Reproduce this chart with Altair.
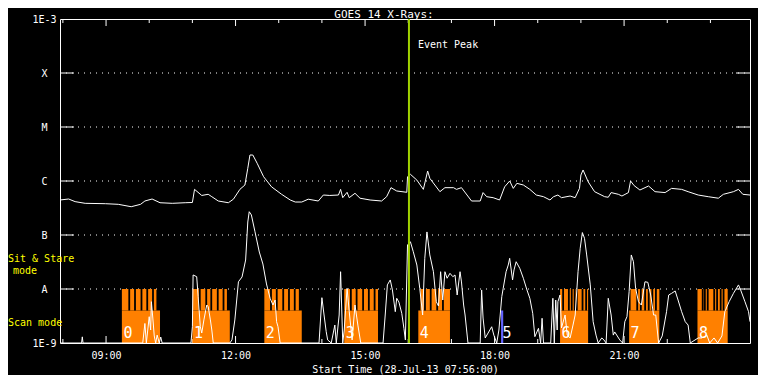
import altair as alt
import pandas as pd

# ---------------- data ----------------
TITLE = "GOES 14 X-Rays:"
START, END = "07:56", "23:55"
EVENT_TIME = "16:01"

# GOES 14 long channel (upper curve)
long_time = ["07:56","08:08","08:17","08:31","08:59","09:17","09:35","09:48","09:54","10:04",
             "10:15","10:32","10:50","11:00","11:03","11:13","11:22","11:27","11:36","11:50",
             "11:57","12:06","12:13","12:17","12:20","12:24","12:30","12:39","12:50","13:04",
             "13:16","13:23","13:32","13:41","13:55","14:02","14:11","14:23","14:26","14:29",
             "14:35","14:38","14:46","14:53","15:07","15:23","15:30","15:36","15:44","15:58",
             "15:59","16:03","16:12","16:21","16:27","16:30","16:44","16:51","17:03","17:07",
             "17:14","17:28","17:40","17:44","17:49","17:58","18:07","18:14","18:21","18:26",
             "18:31","18:40","18:49","18:58","19:08","19:17","19:22","19:28","19:33","19:45",
             "19:52","19:58","20:00","20:03","20:10","20:19","20:33","20:38","20:42","20:52",
             "20:57","21:06","21:09","21:14","21:22","21:34","21:43","21:57","22:06","22:20",
             "22:29","22:43","22:57","23:11","23:18","23:32","23:39","23:45","23:55"]
long_flux = [4.45e-7,4.64e-7,4.15e-7,3.86e-7,3.8e-7,3.7e-7,3.34e-7,3.7e-7,4.26e-7,4.64e-7,
             3.96e-7,3.86e-7,3.96e-7,4.0e-7,7.0e-7,5.4e-7,5.67e-7,5.12e-7,4.26e-7,3.96e-7,
             4.6e-7,7.0e-7,8.43e-7,1.72e-6,3.03e-6,3.03e-6,2.13e-6,1.2e-6,7.8e-7,5.67e-7,
             4.45e-7,4.08e-7,4.08e-7,4.6e-7,4.26e-7,5.5e-7,5.4e-7,5.5e-7,7.0e-7,4.91e-7,
             6.18e-7,4.91e-7,5.92e-7,4.8e-7,4.45e-7,4.26e-7,5.12e-7,7.52e-7,6.53e-7,6.18e-7,
             1.2e-6,1.33e-6,1.04e-6,7.0e-7,1.53e-6,1.12e-6,6.34e-7,7.52e-7,7.52e-7,7.0e-7,
             7.52e-7,4.26e-7,4.26e-7,6.1e-7,5.12e-7,4.91e-7,4.45e-7,7.8e-7,1.0e-6,7.3e-7,
             9.06e-7,8.43e-7,7.0e-7,5.5e-7,5.12e-7,4.45e-7,5.12e-7,5.5e-7,4.91e-7,5.27e-7,
             4.91e-7,7.3e-7,1.29e-6,1.6e-6,9.7e-7,6.34e-7,5.12e-7,5.0e-7,6.1e-7,5.67e-7,
             5.27e-7,6.1e-7,1.0e-6,8.2e-7,6.81e-7,8.08e-7,6.34e-7,6.1e-7,7.3e-7,7.0e-7,
             6.34e-7,5.5e-7,5.12e-7,4.8e-7,5.67e-7,6.34e-7,7.0e-7,5.67e-7,5.5e-7]

# GOES 14 short channel (lower curve)
short_time = ["07:56","08:26","08:27","08:28","09:51","09:54","09:56","10:00","10:02","10:03",
              "10:05","10:07","10:09","10:11","10:14","10:16","10:18","10:58","11:00","11:01",
              "11:06","11:08","11:11","11:13","11:16","11:20","11:22","11:25","11:27","11:29",
              "11:52","11:55","11:59","12:04","12:09","12:14","12:17","12:19","12:22","12:27",
              "12:33","12:38","12:43","12:48","12:52","12:55","12:57","12:59","13:02","13:56",
              "14:00","14:03","14:06","14:08","14:13","14:18","14:20","14:24","14:26","14:29",
              "14:31","14:35","14:38","14:42","14:46","14:50","14:54","15:25","15:28","15:31",
              "15:35","15:38","15:42","15:44","15:47","15:51","15:54","15:56","15:59","16:03",
              "16:07","16:12","16:16","16:20","16:23","16:26","16:30","16:35","16:39","16:42",
              "16:45","16:48","16:51","16:54","16:58","17:02","17:05","17:08","17:12","17:14",
              "17:17","17:19","17:23","17:40","17:42","17:44","17:47","17:51","17:56","17:59",
              "18:03","18:06","18:10","18:12","18:16","18:19","18:21","18:25","18:27","18:30",
              "18:35","18:40","18:45","18:49","18:53","18:56","19:01","19:04","19:06","19:08",
              "19:18","19:21","19:23","19:25","19:27","19:28","19:31","19:33","19:38","19:41",
              "19:45","19:49","19:52","19:56","19:59","20:02","20:05","20:08","20:13","20:17",
              "20:21","20:24","20:29","20:32","20:35","20:38","20:42","20:45","20:47","20:54",
              "20:58","21:01","21:04","21:07","21:10","21:13","21:16","21:20","21:24","21:29",
              "21:33","21:37","21:41","21:44","21:48","21:53","21:59","22:02","22:06","22:11",
              "22:15","22:20","22:25","22:29","22:32","22:43","22:48","22:55","22:59","23:05",
              "23:10","23:16","23:20","23:26","23:32","23:39","23:42","23:48","23:53","23:55"]
short_flux = [1e-9,1e-9,1.3e-9,1e-9,1e-9,2.3e-9,1e-9,3.07e-9,1.74e-9,5.82e-9,
              2.9e-9,1.35e-9,1e-9,1.4e-9,1e-9,1.29e-9,1e-9,1e-9,2.0e-9,1.82e-8,
              1.69e-8,7.2e-9,2.0e-9,1.53e-9,2.67e-9,5.05e-9,4.7e-9,2.67e-9,1.74e-9,1e-9,
              1e-9,1.14e-9,2.67e-9,1.36e-8,1.67e-8,3.44e-8,1.74e-7,2.7e-7,2.35e-7,1.15e-7,
              4.84e-8,2.9e-8,1.24e-8,6.73e-9,5.05e-9,6.25e-9,2.48e-9,2.0e-9,1e-9,1e-9,
              6.9e-9,3.3e-9,1.62e-9,1.14e-9,1e-9,2.15e-9,1e-9,3.3e-9,2.09e-8,1e-9,
              1.74e-9,1.03e-8,3.8e-9,1.14e-9,5.05e-9,2.15e-9,1e-9,1e-9,3.3e-9,1.19e-8,
              1.47e-8,9.6e-9,3.8e-9,6.73e-9,5.74e-9,3.55e-9,1.87e-9,1.14e-9,6.53e-8,7.5e-8,
              4.9e-8,2.78e-8,1.03e-8,3.3e-9,3.7e-8,1.14e-7,4.27e-8,2.09e-8,5.82e-9,4.84e-9,
              2.09e-8,6.25e-9,2.09e-8,1.58e-8,1.95e-8,1.69e-8,1.82e-8,7.74e-9,2.09e-8,1.35e-8,
              5.05e-9,3.3e-9,1e-9,1e-9,9.6e-9,2.9e-9,1.24e-9,1.53e-9,2.0e-9,1.4e-9,
              1e-9,1.74e-9,7.2e-9,1.03e-8,2.09e-8,2.78e-8,3.7e-8,1.47e-8,2.25e-8,3.2e-8,
              2.42e-8,1.58e-8,9.6e-9,6.73e-9,3.55e-9,1.31e-9,1.87e-9,1e-9,2.87e-9,1e-9,
              1e-9,6.73e-9,1e-9,6.25e-9,1.74e-9,5.82e-9,7.74e-9,1.9e-9,3.3e-9,1.4e-9,
              1.24e-9,2.15e-9,3.3e-9,2.09e-8,5.67e-8,1.11e-7,8.69e-8,4.27e-8,1.19e-8,2.48e-9,
              1.4e-9,1e-9,1.24e-9,1.14e-9,1e-9,6.73e-9,3.3e-9,1.4e-9,1.6e-9,1.14e-9,
              1e-9,2.48e-9,3.07e-9,8.9e-9,4.27e-8,3.2e-8,1.03e-8,5.82e-9,5.05e-9,1.36e-8,
              1.33e-8,7.74e-9,3.3e-9,3.3e-9,1e-9,1.35e-9,3.8e-9,7.74e-9,8.3e-9,9.2e-9,
              6.25e-9,3.8e-9,2.48e-9,2.15e-9,1e-9,1.24e-9,1.24e-9,1.4e-9,1e-9,1.24e-9,
              1e-9,1.35e-9,3.8e-9,5.82e-9,8.3e-9,1.19e-8,9.6e-9,5.82e-9,3.8e-9,2.48e-9]

# observation blocks (scan mode bar + sit & stare comb)
block_id    = ["0","1","2","3","4","5","6","7","8"]
block_kind  = ["iris","iris","iris","iris","iris","other","iris","iris","iris"]
scan_start  = ["09:22","11:00","12:40","14:31","16:14","18:09","19:31","21:07","22:42"]
scan_end    = ["10:15","11:52","13:32","15:18","16:58","18:12","20:10","21:49","23:24"]
sit_start   = ["09:22","11:00","12:40","14:31","16:17","","19:31","21:09","22:42"]
sit_end     = ["10:10","11:48","13:28","15:18","16:58","","20:10","21:49","23:24"]
gap_start = ["09:31","09:39","09:48","09:56","10:04",
             "11:09","11:18","11:25","11:34","11:42",
             "12:48","12:56","13:05","13:13","13:21",
             "14:39","14:47","14:56","15:04","15:12",
             "16:22","16:30","16:39","16:47",
             "19:34","19:42","19:46","19:50","19:53","20:01","20:06",
             "21:17","21:22","21:28","21:33","21:38","21:43",
             "22:48","22:51","22:55","23:04","23:08","23:13","23:17"]
GAP_MIN = 2.5

FLOOR, SCAN_TOP, SIT_TOP = 1e-9, 4e-9, 1e-8

decades = [1e-9, 1e-8, 1e-7, 1e-6, 1e-5, 1e-4, 1e-3]
decade_labels = ["1E-9", "A", "B", "C", "M", "X", "1E-3"]
grid_decades = [1e-8, 1e-7, 1e-6, 1e-5, 1e-4]
x_tick_hours = [9, 12, 15, 18, 21]
x_tick_labels = ["09:00", "12:00", "15:00", "18:00", "21:00"]
all_hours = list(range(8, 24))

# ---------------- build chart ----------------
def hrs(s):
    h, m = s.split(":")
    return int(h) + int(m) / 60.0

W, H = 690, 324
FONT = "DejaVu Sans Mono"
ORANGE, BLUE, GREEN, YELLOW = "#ff8000", "#6464ff", "#a0d200", "#ffff00"

xs = alt.Scale(domain=[hrs(START), hrs(END)], nice=False, zero=False)
ys = alt.Scale(type="log", domain=[1e-9, 1e-3], nice=False)

long_df = pd.DataFrame({"t": [hrs(s) for s in long_time], "flux": long_flux})
short_df = pd.DataFrame({"t": [hrs(s) for s in short_time], "flux": short_flux})
blocks = pd.DataFrame({
    "id": block_id, "kind": block_kind,
    "t0": [hrs(s) for s in scan_start], "t1": [hrs(s) for s in scan_end],
    "lo": FLOOR, "hi": SCAN_TOP,
})
sit = pd.DataFrame({
    "t0": [hrs(s) for s in sit_start if s], "t1": [hrs(s) for s in sit_end if s],
})
sit["lo"], sit["hi"] = SCAN_TOP, SIT_TOP
gaps = pd.DataFrame({"t0": [hrs(s) for s in gap_start]})
gaps["t1"] = gaps["t0"] + GAP_MIN / 60.0
gaps["lo"], gaps["hi"] = SCAN_TOP, SIT_TOP
grid_df = pd.DataFrame({"flux": grid_decades})
hours_df = pd.DataFrame({"t": all_hours, "major": [h in x_tick_hours for h in all_hours]})
event_df = pd.DataFrame({"t": [hrs(EVENT_TIME)], "label": ["Event Peak"]})

x_expr = " : ".join(f"datum.value == {h} ? '{l}'" for h, l in zip(x_tick_hours, x_tick_labels)) + " : ''"
y_expr = "[" + ",".join(f"'{l}'" for l in decade_labels) + "][round(log(datum.value)/LN10)+9]"

X_AX = alt.Axis(
    values=x_tick_hours, labelExpr=x_expr, ticks=False, tickSize=0, domain=False, grid=False,
    labelColor="white", labelFont=FONT, labelFontSize=10, labelBaseline="middle", labelPadding=12,
    labelFlush=False, title="Start Time (28-Jul-13 07:56:00)", titleColor="white", titleFont=FONT,
    titleFontSize=10, titleFontWeight="normal", titlePadding=4)
Y_AX = alt.Axis(
    values=decades, labelExpr=y_expr, ticks=False, tickSize=0, domain=False, grid=False,
    labelColor="white", labelFont=FONT, labelFontSize=10, labelAlign="center",
    labelBaseline="middle", labelPadding=16, labelFlush=False, title=None)

xN = lambda f: alt.X(f, type="quantitative", scale=xs, axis=X_AX)
yN = lambda f: alt.Y(f, type="quantitative", scale=ys, axis=Y_AX)

grid = alt.Chart(grid_df).mark_rule(color="white", strokeDash=[1, 5], strokeWidth=1).encode(
    y=yN("flux"), x=alt.value(0), x2=alt.value(W))
tick_l = alt.Chart(grid_df).mark_rule(color="white").encode(y=yN("flux"), x=alt.value(0), x2=alt.value(14))
tick_r = alt.Chart(grid_df).mark_rule(color="white").encode(y=yN("flux"), x=alt.value(W - 14), x2=alt.value(W))

def hour_ticks(major, top):
    L = 7 if major else 4
    y0, y1 = (0, L) if top else (H, H - L)
    return alt.Chart(hours_df).transform_filter(
        alt.datum.major if major else ~alt.datum.major
    ).mark_rule(color="white").encode(x=xN("t"), y=alt.value(y0), y2=alt.value(y1))

scan_rect = alt.Chart(blocks).mark_rect().encode(
    x=xN("t0"), x2="t1", y=yN("lo"), y2="hi",
    color=alt.Color("kind:N", scale=alt.Scale(domain=["iris", "other"], range=[ORANGE, BLUE]), legend=None))
sit_rect = alt.Chart(sit).mark_rect(color=ORANGE).encode(x=xN("t0"), x2="t1", y=yN("lo"), y2="hi")
gap_rect = alt.Chart(gaps).mark_rect(color="black").encode(x=xN("t0"), x2="t1", y=yN("lo"), y2="hi")
block_lbl = alt.Chart(blocks).mark_text(color="white", font=FONT, fontSize=15, align="left",
                                        baseline="middle", dx=1.5).encode(
    x=xN("t0"), y=alt.value(313.5), text="id:N")

short_line = alt.Chart(short_df).mark_line(color="white", strokeWidth=1, clip=True).encode(
    x=xN("t"), y=yN("flux"))
long_line = alt.Chart(long_df).mark_line(color="white", strokeWidth=1, clip=True).encode(
    x=xN("t"), y=yN("flux"))

event_rule = alt.Chart(event_df).mark_rule(color=GREEN, strokeWidth=2).encode(x=xN("t"))
event_txt = alt.Chart(event_df).mark_text(color="white", font=FONT, fontSize=10, align="left",
                                          baseline="middle", dx=9).encode(
    x=xN("t"), y=alt.value(26), text="label:N")

def label(text, x, y, color, size=10, align="left", baseline="middle"):
    return alt.Chart(pd.DataFrame({"s": [text]})).mark_text(
        color=color, font=FONT, fontSize=size, align=align, baseline=baseline).encode(
        text="s:N", x=alt.value(x), y=alt.value(y))

chart = alt.layer(
    grid, tick_l, tick_r,
    hour_ticks(True, True), hour_ticks(False, True), hour_ticks(True, False), hour_ticks(False, False),
    scan_rect, sit_rect, gap_rect, block_lbl,
    short_line, long_line, event_rule, event_txt,
    label("Sit & Stare", -52, 239.5, YELLOW), label("mode", -47, 252, YELLOW),
    label("Scan mode", -52, 304, YELLOW),
    label(TITLE, 324, -10, "white", size=11, align="center", baseline="top"),
).properties(
    width=W, height=H, background="black",
    padding={"left": 52, "top": 11, "right": 8, "bottom": 32},
    autosize=alt.AutoSizeParams(type="none"),
).configure_view(stroke="white", strokeWidth=1)

chart.save("out.html", embed_options={"renderer": "svg", "actions": False})
